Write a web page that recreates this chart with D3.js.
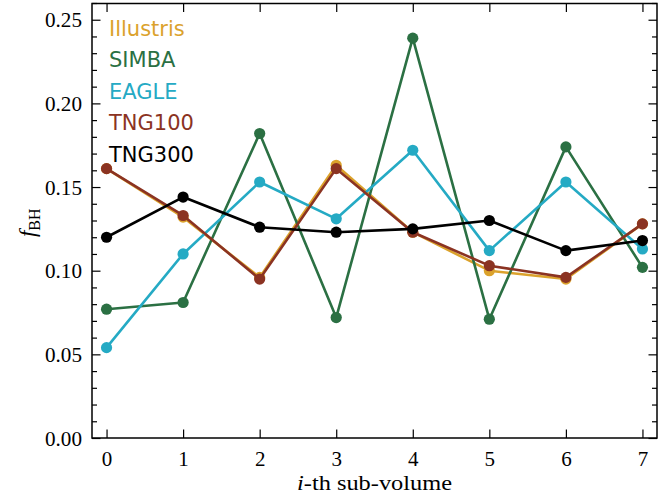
<!DOCTYPE html>
<html>
<head>
<meta charset="utf-8">
<script src="https://cdn.jsdelivr.net/npm/d3@7"></script>
<style>
  html, body { margin: 0; padding: 0; background: #fff; }
  svg { display: block; }
</style>
</head>
<body>
<div id="chart"></div>
<script>
// Black-hole occupation fraction per sub-volume for each simulation
const subVolumes = [0, 1, 2, 3, 4, 5, 6, 7];
const illustris = [0.161, 0.132, 0.096, 0.163, 0.123, 0.100, 0.095, 0.128];
const simba     = [0.077, 0.081, 0.182, 0.072, 0.239, 0.071, 0.174, 0.102];
const eagle     = [0.054, 0.110, 0.153, 0.131, 0.172, 0.112, 0.153, 0.113];
const tng100    = [0.161, 0.133, 0.095, 0.161, 0.123, 0.103, 0.096, 0.128];
const tng300    = [0.120, 0.144, 0.126, 0.123, 0.125, 0.130, 0.112, 0.118];

const seriesNames  = ["Illustris", "SIMBA", "EAGLE", "TNG100", "TNG300"];
const seriesValues = [illustris, simba, eagle, tng100, tng300];
const seriesColors = ["#DBA22C", "#2B7043", "#25AAC4", "#8B3322", "#000000"];

const yTickValues = [0.00, 0.05, 0.10, 0.15, 0.20, 0.25];

const W = 670, H = 497;
const margin = { left: 92, right: 13, top: 3.5, bottom: 59 };
const iw = W - margin.left - margin.right;
const ih = H - margin.top - margin.bottom;

const svg = d3.select("#chart").append("svg")
  .attr("width", W).attr("height", H);

const g = svg.append("g").attr("transform", `translate(${margin.left},${margin.top})`);

const x = d3.scaleLinear().domain([-0.19, 7.19]).range([0, iw]);
const y = d3.scaleLinear().domain([0, 0.2597]).range([ih, 0]);

const serif = "'Liberation Serif', 'DejaVu Serif', serif";
const major = 8.5, minor = 5;

// Data lines and markers, one series at a time so later series sit on top
const line = d3.line().x((d, i) => x(subVolumes[i])).y(d => y(d));
seriesValues.forEach((vals, k) => {
  const sg = g.append("g");
  sg.append("path")
    .attr("d", line(vals))
    .attr("fill", "none")
    .attr("stroke", seriesColors[k])
    .attr("stroke-width", 2.6)
    .attr("stroke-linejoin", "round");
  sg.selectAll("circle").data(vals).join("circle")
    .attr("cx", (d, i) => x(subVolumes[i]))
    .attr("cy", d => y(d))
    .attr("r", 5.6)
    .attr("fill", seriesColors[k]);
});

// Axes with inward ticks on all four sides
const yMinor = d3.range(0, 0.2601, 0.01).filter(v => !yTickValues.some(t => Math.abs(t - v) < 1e-9));

function styleAxis(sel) {
  sel.select(".domain").remove();
  sel.selectAll(".tick line").attr("stroke", "#000").attr("stroke-width", 1.2);
  sel.selectAll(".tick text").attr("font-family", serif).attr("font-size", 21).attr("fill", "#000");
}

const yLeft = g.append("g").call(
  d3.axisLeft(y).tickValues(yTickValues).tickFormat(d3.format(".2f")).tickSizeInner(-major).tickPadding(10)
);
styleAxis(yLeft);
yLeft.selectAll(".tick text").attr("dy", "0.34em")
  .attr("textLength", 37).attr("lengthAdjust", "spacingAndGlyphs");

const yLeftMinor = g.append("g").call(d3.axisLeft(y).tickValues(yMinor).tickFormat("").tickSizeInner(-minor));
styleAxis(yLeftMinor);

const yRight = g.append("g").attr("transform", `translate(${iw},0)`)
  .call(d3.axisRight(y).tickValues(yTickValues).tickFormat("").tickSizeInner(-major));
styleAxis(yRight);
const yRightMinor = g.append("g").attr("transform", `translate(${iw},0)`)
  .call(d3.axisRight(y).tickValues(yMinor).tickFormat("").tickSizeInner(-minor));
styleAxis(yRightMinor);

const xBottom = g.append("g").attr("transform", `translate(0,${ih})`)
  .call(d3.axisBottom(x).tickValues(subVolumes).tickFormat(d3.format("d")).tickSizeInner(-major).tickPadding(9));
styleAxis(xBottom);
xBottom.selectAll(".tick text").attr("dy", "0.9em");

const xTop = g.append("g")
  .call(d3.axisTop(x).tickValues(subVolumes).tickFormat("").tickSizeInner(-major));
styleAxis(xTop);

// Frame
g.append("rect")
  .attr("x", 0).attr("y", 0).attr("width", iw).attr("height", ih)
  .attr("fill", "none").attr("stroke", "#000").attr("stroke-width", 1.5);

// Axis labels
svg.append("text")
  .attr("x", margin.left + iw / 2).attr("y", 490)
  .attr("text-anchor", "middle")
  .attr("font-family", serif).attr("font-size", 22)
  .attr("textLength", 155).attr("lengthAdjust", "spacingAndGlyphs")
  .html('<tspan font-style="italic">i</tspan>-th sub-volume');

const yl = svg.append("text")
  .attr("transform", `translate(35,${margin.top + ih / 2 + 2}) rotate(-90)`)
  .attr("text-anchor", "middle")
  .attr("font-family", serif).attr("font-size", 23);
yl.append("tspan").attr("font-style", "italic").text("f");
yl.append("tspan").attr("font-size", 16).attr("dy", 5).text("BH");

// Legend: coloured labels only
const legend = svg.append("g").attr("font-family", "'DejaVu Sans', sans-serif").attr("font-size", 21);
seriesNames.forEach((name, k) => {
  legend.append("text")
    .attr("x", 109).attr("y", 36 + k * 31.4)
    .attr("fill", seriesColors[k])
    .text(name);
});
</script>
</body>
</html>
